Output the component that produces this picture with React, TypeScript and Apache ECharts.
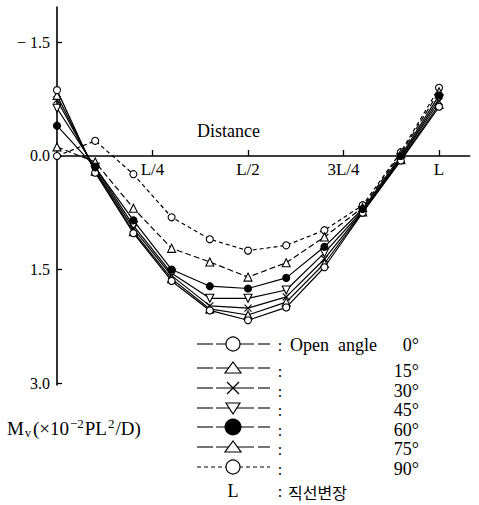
import React, { useEffect, useRef } from 'react';
import * as echarts from 'echarts';

// ---- data ----
const positions = [0, 0.1, 0.2, 0.3, 0.4, 0.5, 0.6, 0.7, 0.8, 0.9, 1.0];
const xTickValues = [0.25, 0.5, 0.75, 1.0];
const xTickLabels = ['L/4', 'L/2', '3L/4', 'L'];
const yTickValues = [-1.5, 0, 1.5, 3.0];
const yTickLabels = ['− 1.5', '0.0', '1.5', '3.0'];
const angleLabels = ['0°', '15°', '30°', '45°', '60°', '75°', '90°'];

const m0 = [-0.87, 0.22, 1.02, 1.65, 2.04, 2.17, 2.0, 1.47, 0.75, 0.06, -0.65];
const m15 = [-0.8, 0.2, 1.0, 1.62, 2.02, 2.1, 1.93, 1.42, 0.74, 0.05, -0.68];
const m30 = [-0.74, 0.18, 0.96, 1.58, 1.98, 2.01, 1.86, 1.36, 0.73, 0.03, -0.72];
const m45 = [-0.63, 0.15, 0.92, 1.55, 1.88, 1.88, 1.77, 1.28, 0.72, 0.02, -0.76];
const m60 = [-0.4, 0.15, 0.85, 1.5, 1.72, 1.75, 1.61, 1.2, 0.7, 0.0, -0.8];
const m75 = [-0.12, 0.08, 0.69, 1.22, 1.4, 1.6, 1.41, 1.07, 0.68, -0.03, -0.85];
const m90 = [0.0, -0.2, 0.24, 0.81, 1.1, 1.25, 1.18, 0.98, 0.65, -0.05, -0.9];
const seriesValues = [m0, m15, m30, m45, m60, m75, m90];

const kinds = ['circle', 'triangle', 'cross', 'invtriangle', 'dot', 'triangle', 'circle'];
const dashPatterns: (number[] | null)[] = [null, null, null, null, null, [6, 3], [4, 3]];

const Y_MIN = -1.968;
const Y_MAX = 3.025;
const GRID_TOP = 7;
const GRID_H = 378;

const SERIF = '"Liberation Serif", "Times New Roman", serif';
const CJK = '"Noto Sans CJK KR", sans-serif';
const CROSS = 'path://M0 0L10 10M10 0L0 10';

function seriesSymbol(kind: string) {
  switch (kind) {
    case 'circle':
      return { symbol: 'circle', symbolSize: 7, symbolRotate: 0, fill: '#fff' };
    case 'triangle':
      return { symbol: 'triangle', symbolSize: 8, symbolRotate: 0, fill: '#fff' };
    case 'invtriangle':
      return { symbol: 'triangle', symbolSize: 8, symbolRotate: 180, fill: '#fff' };
    case 'cross':
      return { symbol: CROSS, symbolSize: 7, symbolRotate: 0, fill: 'none' };
    default:
      return { symbol: 'circle', symbolSize: 7, symbolRotate: 0, fill: '#000' };
  }
}

function legendSymbol(kind: string, cx: number, cy: number): any[] {
  const st = { stroke: '#000', lineWidth: 1.2, fill: '#fff' };
  switch (kind) {
    case 'circle':
      return [{ type: 'circle', shape: { cx, cy, r: 7 }, style: st }];
    case 'triangle':
      return [{ type: 'polygon', shape: { points: [[cx - 8, cy + 5], [cx + 8, cy + 5], [cx, cy - 6]] }, style: st }];
    case 'invtriangle':
      return [{ type: 'polygon', shape: { points: [[cx - 7, cy - 5], [cx + 7, cy - 5], [cx, cy + 6]] }, style: st }];
    case 'cross':
      return [
        { type: 'line', shape: { x1: cx - 6, y1: cy - 6, x2: cx + 6, y2: cy + 6 }, style: { stroke: '#000', lineWidth: 1.3 } },
        { type: 'line', shape: { x1: cx + 6, y1: cy - 6, x2: cx - 6, y2: cy + 6 }, style: { stroke: '#000', lineWidth: 1.3 } },
      ];
    default:
      return [{ type: 'circle', shape: { cx, cy, r: 8.5 }, style: { fill: '#000' } }];
  }
}

export default function App() {
  const ref = useRef<HTMLDivElement>(null);

  useEffect(() => {
    if (!ref.current) return;
    const chart = echarts.init(ref.current, undefined, { renderer: 'svg' });

    const series = seriesValues.map((vals, i) => {
      const s = seriesSymbol(kinds[i]);
      return {
        name: angleLabels[i],
        type: 'line',
        data: positions.map((p, j) => [p, vals[j]]),
        symbol: s.symbol,
        symbolSize: s.symbolSize,
        symbolRotate: s.symbolRotate,
        showSymbol: true,
        z: kinds[i] === 'dot' ? 12 : 10 - i,
        lineStyle: {
          color: '#000',
          width: 1.2,
          type: dashPatterns[i] ?? 'solid',
        },
        itemStyle: { color: s.fill, borderColor: '#000', borderWidth: 1.1 },
        emphasis: { disabled: true },
      };
    });

    const legendRowsY = [344, 368, 388, 408, 427, 447, 467];
    const labelRowsY = [345, 371, 391, 410, 430, 449, 469];
    const graphics: any[] = [];
    legendRowsY.forEach((y, i) => {
      if (i === 6) {
        graphics.push({ type: 'line', shape: { x1: 197, y1: y, x2: 270, y2: y }, style: { stroke: '#000', lineWidth: 1.1, lineDash: [4, 3] } });
      } else {
        [[197, 213], [216, 254], [258, 270]].forEach(([a, b]) => {
          graphics.push({ type: 'line', shape: { x1: a, y1: y, x2: b, y2: y }, style: { stroke: '#000', lineWidth: 1.1 } });
        });
      }
      graphics.push(...legendSymbol(kinds[i], 233, y));
      graphics.push({ type: 'text', x: 280, y: labelRowsY[i], style: { text: ':', fontSize: 16, fontFamily: SERIF, fill: '#000', textAlign: 'center', textVerticalAlign: 'middle' } });
      graphics.push({ type: 'text', x: 419, y: labelRowsY[i], style: { text: angleLabels[i], fontSize: 18, fontFamily: SERIF, fill: '#000', textAlign: 'right', textVerticalAlign: 'middle' } });
    });
    graphics.push({ type: 'text', x: 290, y: 345, style: { text: 'Open  angle', fontSize: 18, fontFamily: SERIF, fill: '#000', textAlign: 'left', textVerticalAlign: 'middle' } });
    graphics.push({ type: 'text', x: 233, y: 491, style: { text: 'L', fontSize: 18, fontFamily: SERIF, fill: '#000', textAlign: 'center', textVerticalAlign: 'middle' } });
    graphics.push({ type: 'text', x: 280, y: 491, style: { text: ':', fontSize: 16, fontFamily: SERIF, fill: '#000', textAlign: 'center', textVerticalAlign: 'middle' } });
    graphics.push({ type: 'text', x: 288, y: 492, style: { text: '직선변장', fontSize: 16, fontFamily: CJK, fill: '#000', textAlign: 'left', textVerticalAlign: 'middle' } });
    graphics.push({ type: 'text', x: 197, y: 131, style: { text: 'Distance', fontSize: 18, fontFamily: SERIF, fill: '#000', textAlign: 'left', textVerticalAlign: 'middle' } });
    graphics.push({
      type: 'text', x: 7, y: 428,
      style: {
        text: '{n|M}{sub|v}{n|(×10}{sup|−2}{n|PL}{sup|2}{n|/D)}',
        fontFamily: SERIF, fill: '#000', textAlign: 'left', textVerticalAlign: 'middle',
        rich: {
          n: { fontSize: 19, fontFamily: SERIF, fill: '#000', lineHeight: 22 },
          sub: { fontSize: 12, fontFamily: SERIF, fill: '#000', lineHeight: 22, padding: [9, 2, 0, 1] },
          sup: { fontSize: 13, fontFamily: SERIF, fill: '#000', lineHeight: 22, padding: [0, 1, 9, 1] },
        },
      },
    });

    // x-axis sits on the value 0 of the (inverted) y scale
    const xAxisOffset = -((Y_MAX - 0) / (Y_MAX - Y_MIN)) * GRID_H;

    chart.setOption({
      animation: false,
      backgroundColor: '#fff',
      grid: { left: 57, top: GRID_TOP, width: 412.6, height: GRID_H, containLabel: false, outerBoundsMode: 'none' },
      xAxis: {
        type: 'value',
        min: 0,
        max: 1.08,
        position: 'bottom',
        offset: xAxisOffset,
        axisLine: { show: true, onZero: false, lineStyle: { color: '#000', width: 1.5 } },
        axisTick: { show: true, inside: true, length: 6, customValues: xTickValues, lineStyle: { color: '#000', width: 1.3 } },
        axisLabel: {
          show: true,
          customValues: xTickValues,
          formatter: (v: number) => xTickLabels[xTickValues.indexOf(v)] ?? '',
          margin: 5,
          color: '#000',
          fontSize: 17,
          fontFamily: SERIF,
        },
        splitLine: { show: false },
      },
      yAxis: {
        type: 'value',
        inverse: true,
        min: Y_MIN,
        max: Y_MAX,
        axisLine: { show: true, onZero: false, lineStyle: { color: '#000', width: 1.6 } },
        axisTick: { show: true, inside: true, length: 5, customValues: yTickValues, lineStyle: { color: '#000', width: 1.3 } },
        axisLabel: {
          show: true,
          customValues: yTickValues,
          formatter: (v: number) => yTickLabels[yTickValues.indexOf(v)] ?? '',
          margin: 7,
          color: '#000',
          fontSize: 16,
          fontFamily: SERIF,
        },
        splitLine: { show: false },
      },
      series,
      graphic: graphics,
    });

    return () => chart.dispose();
  }, []);

  return <div ref={ref} style={{ position: 'fixed', left: 0, top: 0, width: 479, height: 505, background: '#fff' }} />;
}
